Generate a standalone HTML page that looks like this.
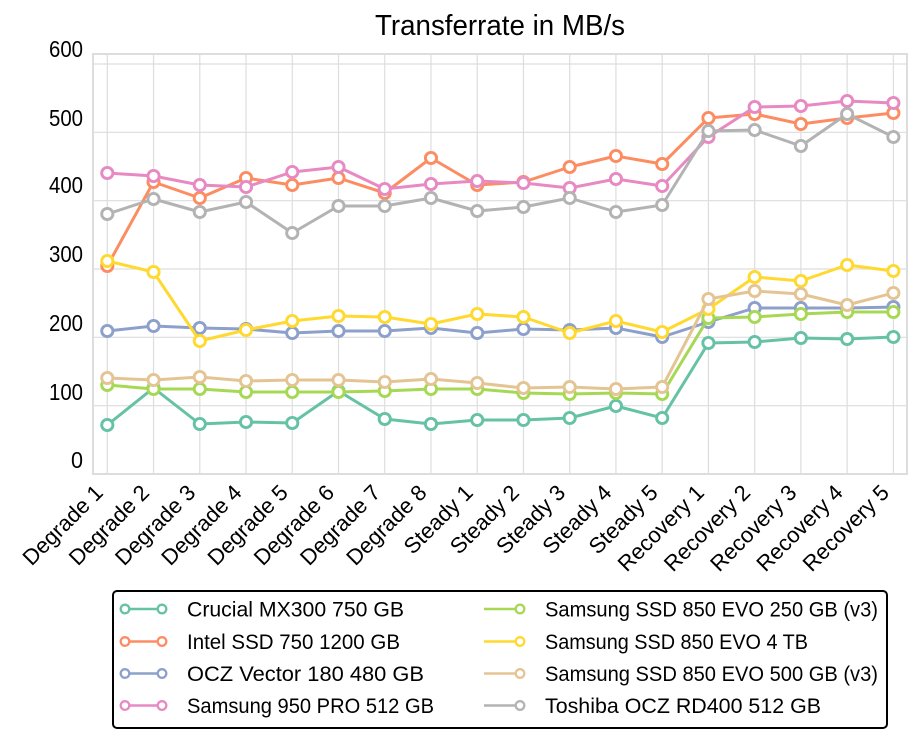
<!DOCTYPE html>
<html><head><meta charset="utf-8"><style>
html,body{margin:0;padding:0;background:#fff;}
svg{display:block;}
text{font-family:"Liberation Sans",sans-serif;fill:#000;}
</style></head><body>
<svg width="921" height="743" viewBox="0 0 921 743" xmlns="http://www.w3.org/2000/svg">
<rect width="921" height="743" fill="#fff"/>
<text x="500" y="35" font-size="29" text-anchor="middle" textLength="250" lengthAdjust="spacingAndGlyphs">Transferrate in MB/s</text>
<g id="grid" stroke="#dddddd" stroke-width="1.2" fill="none"></g>
<rect x="93" y="54" width="814" height="420" fill="none" stroke="#dddddd" stroke-width="2"/>
<g id="ylab" font-size="23" text-anchor="end"></g>
<g id="xlab" font-size="22" text-anchor="end"></g>
<g id="series"></g>
<rect x="113" y="591" width="774" height="137" rx="4" ry="4" fill="#fff" stroke="#000" stroke-width="2"/>
<g id="legend" font-size="21"></g>
<script>
(function(){
var NS="http://www.w3.org/2000/svg";
function el(t,a,p,txt){var e=document.createElementNS(NS,t);for(var k in a)e.setAttribute(k,a[k]);if(txt!=null)e.textContent=txt;p.appendChild(e);return e;}
var xs=[];for(var i=0;i<18;i++)xs.push(107.3+46.24*i);
var grid=document.getElementById('grid');
xs.forEach(function(x){el('line',{x1:x,y1:55,x2:x,y2:473},grid);});
var gy=[64,132.3,200.7,269,337.3,405.7];
gy.forEach(function(y){el('line',{x1:94,y1:y,x2:906,y2:y},grid);});
var ylab=document.getElementById('ylab');
var yv=[600,500,400,300,200,100,0],yb=[57,126,193,262,331,400,468];
yv.forEach(function(v,i){
  var w=v===0?12:34;
  el('text',{x:83,y:yb[i],textLength:w,lengthAdjust:'spacingAndGlyphs'},ylab,String(v));
});
var labs=[];for(i=1;i<=8;i++)labs.push('Degrade '+i);for(i=1;i<=5;i++)labs.push('Steady '+i);for(i=1;i<=5;i++)labs.push('Recovery '+i);
var xl=document.getElementById('xlab');
labs.forEach(function(l,i){el('text',{transform:'translate('+(xs[i]-3)+',494) rotate(-45)'},xl,l);});
var S=[
["Crucial MX300 750 GB","#66c2a5",[425,388,424,422,423,391,419,424,420,420,418,406,418,343,342,338,339,337]],
["Intel SSD 750 1200 GB","#fc8d62",[266,182,198,178,185,178,193,158,185,182,167,156,164,118,114,124,118,113]],
["OCZ Vector 180 480 GB","#8da0cb",[331,326,328,329,333,331,331,328,333,329,330,328,337,322,308,308,308,307]],
["Samsung 950 PRO 512 GB","#e78ac3",[173,176,185,187,172,167,189,184,181,183,188,179,186,137,107,106,101,103]],
["Samsung SSD 850 EVO 250 GB (v3)","#a6d854",[385,389,389,392,392,392,391,389,389,393,394,393,394,318,317,314,312,312]],
["Samsung SSD 850 EVO 4 TB","#ffd92f",[261,272,341,330,321,316,317,324,314,317,333,321,332,309,277,281,265,271]],
["Samsung SSD 850 EVO 500 GB (v3)","#e5c494",[378,380,377,381,380,380,382,379,383,388,387,389,387,299,291,294,305,293]],
["Toshiba OCZ RD400 512 GB","#b3b3b3",[214,199,212,202,233,206,206,198,211,207,198,212,205,131,130,146,114,137]]
];
var sg=document.getElementById('series');
S.forEach(function(s){
  var pts=s[2].map(function(y,i){return xs[i].toFixed(1)+','+y;}).join(' ');
  el('polyline',{points:pts,fill:'none',stroke:s[1],'stroke-width':3,'stroke-linejoin':'round'},sg);
  s[2].forEach(function(y,i){el('circle',{cx:xs[i],cy:y,r:5.6,fill:'#fff',stroke:s[1],'stroke-width':2.9},sg);});
});
var lg=document.getElementById('legend');
var rows=[609,641.5,673.5,705.5];
var widths=[217,213,237,247,333,263,333,276];
S.forEach(function(s,i){
  var col=i<4?0:1,r=i%4,y=rows[r];
  var x0=col?484:125,x1=col?520:162,tx=col?545:187;
  el('line',{x1:x0,y1:y,x2:x1,y2:y,stroke:s[1],'stroke-width':2.5},lg);
  if(!col)el('circle',{cx:x0,cy:y,r:4.3,fill:'#fff',stroke:s[1],'stroke-width':2.3},lg);
  el('circle',{cx:x1,cy:y,r:4.3,fill:'#fff',stroke:s[1],'stroke-width':2.3},lg);
  el('text',{x:tx,y:y+7.5,textLength:widths[i],lengthAdjust:'spacingAndGlyphs'},lg,s[0]);
});
})();
</script>
</svg>
</body></html>
